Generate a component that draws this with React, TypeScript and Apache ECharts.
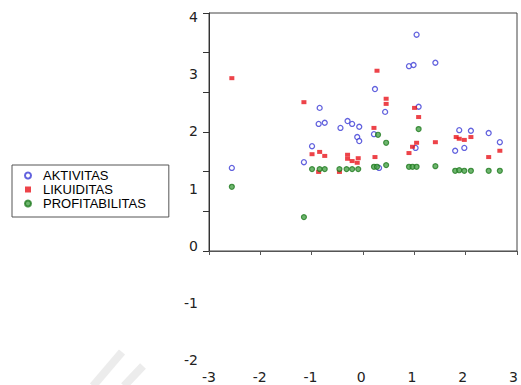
import React, { useEffect, useRef } from "react";
import * as echarts from "echarts";

const seriesNames = ["AKTIVITAS", "LIKUIDITAS", "PROFITABILITAS"];

const aktX = [-2.55, -1.13, -0.97, -0.82, -0.84, -0.72, -0.41, -0.27, -0.18, -0.04, -0.08, -0.04, 0.27, 0.47, 0.25, 0.35, 0.94, 1.03, 1.09, 1.46, 1.13, 1.07, 1.93, 2.16, 1.85, 2.03, 2.51, 2.73];
const aktY = [1.36, 1.46, 1.74, 2.41, 2.13, 2.15, 2.06, 2.18, 2.13, 2.08, 1.9, 1.83, 2.74, 2.34, 1.95, 1.36, 3.14, 3.16, 3.69, 3.2, 2.43, 1.71, 2.02, 2.01, 1.66, 1.71, 1.97, 1.81];

const likX = [-2.55, -1.13, -0.97, -0.82, -0.72, -0.84, -0.43, -0.27, -0.27, -0.18, -0.06, -0.08, 0.31, 0.49, 0.49, 0.25, 0.27, 1.05, 1.13, 1.09, 1.01, 0.94, 1.46, 1.87, 1.93, 2.03, 2.16, 2.73, 2.51];
const likY = [2.93, 2.51, 1.6, 1.64, 1.57, 1.29, 1.29, 1.59, 1.52, 1.48, 1.53, 1.45, 3.06, 2.57, 2.48, 2.06, 1.55, 2.41, 2.25, 1.8, 1.73, 1.62, 1.81, 1.9, 1.87, 1.85, 1.9, 1.66, 1.55];

const proX = [-2.55, -1.13, -0.97, -0.82, -0.72, -0.43, -0.29, -0.18, -0.06, 0.25, 0.31, 0.33, 0.49, 0.49, 0.94, 1.01, 1.09, 1.13, 1.46, 1.85, 1.93, 2.03, 2.16, 2.51, 2.73];
const proY = [1.03, 0.5, 1.34, 1.34, 1.34, 1.34, 1.34, 1.34, 1.34, 1.38, 1.38, 1.94, 1.8, 1.41, 1.38, 1.38, 1.38, 2.04, 1.39, 1.31, 1.32, 1.31, 1.31, 1.31, 1.31];

const xTickMin = -3;
const xTickMax = 3;
const yLabelMin = -2;
const yLabelMax = 4;

const zip = (xs: number[], ys: number[]) => xs.map((x, i) => [x, ys[i]]);

export default function App() {
  const ref = useRef<HTMLDivElement>(null);
  useEffect(() => {
    if (!ref.current) return;
    const chart = echarts.init(ref.current, null, { renderer: "svg" });
    const axisColor = "#333";
    chart.setOption({
      animation: false,
      backgroundColor: "#fff",
      graphic: [
        {
          type: "line",
          z: -1,
          shape: { x1: 93, y1: 386, x2: 122, y2: 352 },
          style: { stroke: "#ececec", lineWidth: 8 },
        },
        {
          type: "line",
          z: -1,
          shape: { x1: 124, y1: 386, x2: 143, y2: 366 },
          style: { stroke: "#ececec", lineWidth: 8 },
        },
      ],
      legend: {
        left: 12,
        top: 165,
        orient: "vertical",
        borderColor: "#555",
        borderWidth: 1,
        padding: [4, 23, 7, 12],
        itemGap: 1,
        itemWidth: 6,
        itemHeight: 6,
        selectedMode: false,
        textStyle: {
          fontFamily: "Liberation Sans",
          fontSize: 13,
          color: "#000",
          padding: [0, 0, 0, 7],
        },
        data: seriesNames,
      },
      grid: [
        {
          left: 209,
          top: 13,
          width: 308,
          height: 238,
          show: true,
          borderColor: "#444",
          borderWidth: 1,
          backgroundColor: "transparent",
        },
        { left: 209, top: 17, width: 308, height: 343 },
      ],
      xAxis: [
        {
          gridIndex: 0,
          type: "value",
          min: xTickMin,
          max: xTickMax,
          interval: 1,
          axisLine: { show: true, onZero: false, lineStyle: { color: "#555", width: 1 } },
          axisTick: { show: true, inside: false, length: 4, lineStyle: { color: "#555" } },
          axisLabel: { show: false },
          splitLine: { show: false },
        },
        {
          gridIndex: 1,
          type: "value",
          min: xTickMin,
          max: xTickMax,
          interval: 1,
          axisLine: { show: false, onZero: false },
          axisTick: { show: false },
          splitLine: { show: false },
          axisLabel: {
            margin: 10,
            fontSize: 14,
            fontFamily: "DejaVu Sans",
            color: "#222",
          },
        },
      ],
      yAxis: [
        {
          gridIndex: 0,
          type: "value",
          min: 0,
          max: 6,
          interval: 1,
          axisLine: { show: true, onZero: false, lineStyle: { color: axisColor, width: 1 } },
          axisTick: { show: true, inside: false, length: 6, lineStyle: { color: axisColor } },
          axisLabel: { show: false },
          splitLine: { show: false },
        },
        {
          gridIndex: 1,
          type: "value",
          min: yLabelMin,
          max: yLabelMax,
          interval: 1,
          axisLine: { show: false, onZero: false },
          axisTick: { show: false },
          splitLine: { show: false },
          axisLabel: {
            margin: 11,
            fontSize: 14,
            fontFamily: "DejaVu Sans",
            color: "#222",
          },
        },
      ],
      series: [
        {
          name: seriesNames[0],
          type: "scatter",
          xAxisIndex: 1,
          yAxisIndex: 1,
          symbol: "circle",
          symbolSize: 5,
          itemStyle: { color: "#ffffff", borderColor: "#3b3bd6", borderWidth: 1.3 },
          data: zip(aktX, aktY),
        },
        {
          name: seriesNames[1],
          type: "scatter",
          xAxisIndex: 1,
          yAxisIndex: 1,
          symbol: "rect",
          symbolSize: [5, 4],
          itemStyle: { color: "#e8141c" },
          data: zip(likX, likY),
        },
        {
          name: seriesNames[2],
          type: "scatter",
          xAxisIndex: 1,
          yAxisIndex: 1,
          symbol: "circle",
          symbolSize: 5,
          itemStyle: { color: "#4aa34a", borderColor: "#1f7a1f", borderWidth: 1.2 },
          data: zip(proX, proY),
        },
      ],
    });
    return () => chart.dispose();
  }, []);
  return (
    <div
      ref={ref}
      style={{ position: "fixed", left: 0, top: 0, width: 521, height: 385 }}
    />
  );
}
